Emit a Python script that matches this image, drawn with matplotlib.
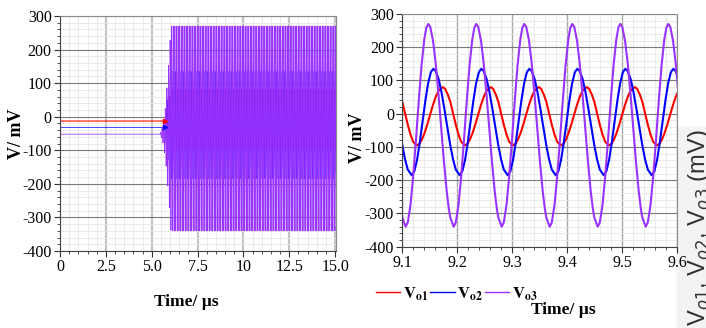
import numpy as np
import matplotlib.pyplot as plt
from matplotlib.ticker import MultipleLocator
from matplotlib.lines import Line2D
from matplotlib.patches import Rectangle

plt.rcParams['font.family'] = ['Liberation Serif', 'DejaVu Serif']
plt.rcParams['mathtext.fontset'] = 'stix'

PERIOD = 0.0874   # us, spacing of the Vo3 peaks in the zoomed panel
T_REF = 9.1       # us, start of the zoom window

# one period of each output
# offsets from T_REF (us) and values (mV)
vo1_tau = [0.000, 0.005, 0.010, 0.015, 0.020, 0.0262, 0.031, 0.036, 0.041, 0.046,
           0.051, 0.056, 0.061, 0.066, 0.0736, 0.078, 0.083]
vo1_mv = [36, 2, -33, -63, -85, -95, -91, -77, -56, -30,
          -1, 27, 51, 69, 80, 75, 57]

vo2_tau = [0.000, 0.005, 0.010, 0.0171, 0.022, 0.027, 0.032, 0.037, 0.042, 0.047,
           0.052, 0.0565, 0.061, 0.066, 0.071, 0.076, 0.081]
vo2_mv = [-95, -137, -168, -185, -173, -138, -85, -22, 39, 91,
          125, 135, 128, 105, 68, 21, -30]

vo3_tau = [0.000, 0.0062, 0.010, 0.015, 0.020, 0.025, 0.030, 0.035, 0.040, 0.044,
           0.0474, 0.051, 0.056, 0.061, 0.066, 0.071, 0.076, 0.081, 0.085]
vo3_mv = [-312, -340, -327, -274, -186, -77, 39, 144, 223, 260,
          270, 261, 219, 149, 57, -45, -147, -235, -289]

# levels before the oscillator starts (mV), left panel
vo1_dc, vo2_dc, vo3_dc = -13, -32, -52
# start-up envelope (fraction of full swing)
vo12_env_t = [5.72, 5.80, 5.95, 6.05]
vo12_env = [0.0, 0.4, 0.8, 1.0]
vo3_env_t = [5.45, 5.60, 5.75, 5.90, 6.05]
vo3_env = [0.0, 0.08, 0.25, 0.6, 1.0]

y_ticks = [-400, -300, -200, -100, 0, 100, 200, 300]
y_labels = ['-400', '-300', '-200', '-100', '0', '100', '200', '300']
x1_ticks = [0, 2.5, 5.0, 7.5, 10, 12.5, 15.0]
x1_labels = ['0', '2.5', '5.0', '7.5', '10', '12.5', '15.0']
x2_ticks = [9.1, 9.2, 9.3, 9.4, 9.5, 9.6]
x2_labels = ['9.1', '9.2', '9.3', '9.4', '9.5', '9.6']

RED, BLUE, PURPLE = '#ff0000', '#0000ff', '#9933ff'


def repeat(tau, mv, k0, k1):
    t = np.concatenate([T_REF + k * PERIOD + np.asarray(tau) for k in range(k0, k1)])
    v = np.tile(mv, k1 - k0)
    return t, v


def startup(tau, mv, dc, env_t, env_a):
    t, v = repeat(tau, mv, -43, 69)
    keep = (t >= env_t[0]) & (t <= 15.1)
    t, v = t[keep], v[keep]
    v = dc + np.interp(t, env_t, env_a) * (v - dc)
    return np.r_[0.0, env_t[0], t], np.r_[dc, dc, v]


def style(ax, xminor, vgrid):
    ax.set_ylim(-400, 300)
    ax.set_yticks(y_ticks, labels=y_labels)
    ax.yaxis.set_minor_locator(MultipleLocator(20))
    ax.xaxis.set_minor_locator(MultipleLocator(xminor))
    ax.grid(True, which='minor', color='#e6e6e6', lw=0.6)
    ax.grid(True, which='major', axis='y', color='#7a7a7a', lw=0.8)
    ax.grid(True, which='major', axis='x', color=vgrid[0], lw=vgrid[1])
    ax.set_axisbelow(True)
    ax.tick_params(which='major', direction='out', length=4, width=0.8, pad=2,
                   labelsize=11.5, colors='#333333', labelcolor='black')
    ax.tick_params(which='minor', direction='out', length=2, width=0.6, colors='#333333')
    for s in ['left', 'bottom']:
        ax.spines[s].set_color('#444444')
    for s in ['top', 'right']:
        ax.spines[s].set_color('#8a8a8a')


fig = plt.figure(figsize=(7.06, 3.28), dpi=100)
ax1 = fig.add_axes([0.085, 0.2348, 0.391, 0.7165])
ax2 = fig.add_axes([0.5698, 0.2479, 0.389, 0.7095])

# left: whole run
t1, v1 = startup(vo1_tau, vo1_mv, vo1_dc, vo12_env_t, vo12_env)
t2, v2 = startup(vo2_tau, vo2_mv, vo2_dc, vo12_env_t, vo12_env)
t3, v3 = startup(vo3_tau, vo3_mv, vo3_dc, vo3_env_t, vo3_env)
ax1.plot(t1, v1, color=RED, lw=0.8)
ax1.plot(t2, v2, color=BLUE, lw=0.5)
ax1.plot(t3, v3, color=PURPLE, lw=0.55)
ax1.plot([vo12_env_t[0]], [vo1_dc], '>', color=RED, ms=3)
ax1.plot([vo12_env_t[0]], [vo2_dc], '>', color=BLUE, ms=3)
ax1.set_xlim(0, 15.05)
ax1.set_xticks(x1_ticks, labels=x1_labels)
style(ax1, 0.5, ('#c4c4c4', 1.6))

# right: zoom 9.1 - 9.6 us
for tau, mv, c in [(vo1_tau, vo1_mv, RED), (vo2_tau, vo2_mv, BLUE), (vo3_tau, vo3_mv, PURPLE)]:
    t, v = repeat(tau, mv, -1, 7)
    ax2.plot(t, v, color=c, lw=1.5)
ax2.set_xlim(9.1, 9.6)
ax2.set_xticks(x2_ticks, labels=x2_labels)
style(ax2, 0.02, ('#a8a8a8', 1.0))

for ax, lx, ly, tx, ty in [(ax1, -0.156, 0.5, 0.457, -0.215), (ax2, -0.164, 0.47, 0.586, -0.27)]:
    ax.text(lx, ly, 'V/ mV', transform=ax.transAxes, rotation=90, ha='center', va='center',
            fontsize=13, fontweight='bold')
    ax.text(tx, ty, 'Time/ µs', transform=ax.transAxes, ha='center', va='center',
            fontsize=12.5, fontweight='bold')

handles = [Line2D([], [], color=c, lw=1.0) for c in (RED, BLUE, PURPLE)]
labels = [r'$\mathbf{V}_{\mathbf{o1}}$', r'$\mathbf{V}_{\mathbf{o2}}$', r'$\mathbf{V}_{\mathbf{o3}}$']
fig.legend(handles, labels, loc='center left', bbox_to_anchor=(376 / 706, 1 - 294 / 328),
           ncol=3, frameon=False, handlelength=1.45, handletextpad=0.15, columnspacing=0.15,
           borderpad=0, borderaxespad=0, prop={'size': 12})

# clipped label of a neighbouring figure at the right edge
fig.add_artist(Rectangle((677 / 706, 0), 29 / 706, 1 - 127 / 328, transform=fig.transFigure,
                         color='#f3f3f3', zorder=0))
fig.text(686 / 706, 0.305, r'V$_{o1}$, V$_{o2}$, V$_{o3}$ (mV)', rotation=90, ha='left',
         va='center', fontsize=17, family='Liberation Sans', color='#303030',
         math_fontfamily='dejavusans')

plt.savefig('out.png', dpi=100)
